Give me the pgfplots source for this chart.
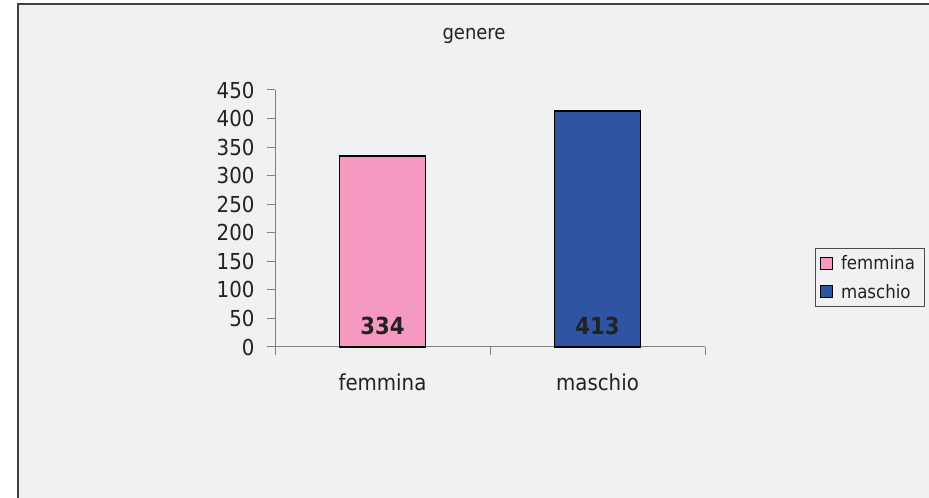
\documentclass[border=0pt]{standalone}
\usepackage{pgfplots}
\pgfplotsset{compat=1.18}
\usepackage{fontspec}
\setmainfont{DejaVu Sans Condensed}
\definecolor{bg}{RGB}{240,241,243}
\definecolor{pinkbar}{RGB}{244,154,193}
\definecolor{bluebar}{RGB}{46,84,163}
\definecolor{txt}{RGB}{34,34,34}
\definecolor{axgray}{RGB}{128,128,128}
\pgfplotsset{sqlegend/.style={legend image code/.code={%
  \draw[##1, line width=0.8bp] (0bp,-6bp) rectangle (12bp,6bp);}}}

\begin{document}
\begin{tikzpicture}
\fill[white] (0,0) rectangle (929bp,498bp);
\fill[bg] (18bp,0) rectangle (929bp,494bp);
\draw[line width=1.5bp, draw=black!75] (18bp,0) -- (18bp,494bp) -- (929bp,494bp);
\begin{axis}[
  at={(275bp,151bp)}, anchor=south west,
  scale only axis, width=430bp, height=257bp,
  ybar, bar width=86bp, bar shift=0pt,
  xmin=-0.5, xmax=1.5, ymin=0, ymax=450,
  clip=false,
  axis x line*=bottom, axis y line*=left,
  axis line style={draw=axgray, line width=1bp},
  xtick={-0.5,0.5,1.5}, xticklabels={femmina,maschio},
  x tick label as interval,
  ytick={0,50,...,450},
  tick align=outside, major tick length=8bp,
  tick style={draw=axgray, line width=1bp},
  /pgf/number format/assume math mode=true,
  tick label style={font=\fontsize{22bp}{26bp}\selectfont, text=txt},
  xticklabel style={anchor=base, yshift=-36bp},
  yticklabel style={anchor=east, xshift=-9bp},
  title={genere},
  title style={at={(axis description cs:0.4628,1.175)}, anchor=base,
    font=\fontsize{20bp}{24bp}\selectfont, text=txt},
  legend style={at={(axis description cs:1.256,0.270)}, anchor=west,
    draw=black!70, fill=bg, font=\fontsize{18.5bp}{22bp}\selectfont,
    text=txt, inner xsep=5bp, inner ysep=5bp, row sep=9bp,
    nodes={inner xsep=4bp},
    /tikz/every odd column/.append style={column sep=4bp}},
  legend cell align=left,
]
\addplot[fill=pinkbar, draw=black, line width=1.5bp, sqlegend]
  coordinates {(0,334)};
\addlegendentry{femmina}
\addplot[fill=bluebar, draw=black, line width=1.5bp, sqlegend]
  coordinates {(1,413)};
\addlegendentry{maschio}
% value labels at the foot of each bar
\addplot[draw=none, fill=none, forget plot, point meta=explicit,
  nodes near coords={\pgfmathprintnumber[assume math mode=true]{\pgfplotspointmeta}},
  every node near coord/.append style={anchor=base, yshift=12bp,
    font=\bfseries\fontsize{23.5bp}{26bp}\selectfont, text=txt}]
  coordinates {(0,0) [334] (1,0) [413]};
\end{axis}
\pgfresetboundingbox
\useasboundingbox (0,0) rectangle (929bp,498bp);
\end{tikzpicture}
\end{document}
